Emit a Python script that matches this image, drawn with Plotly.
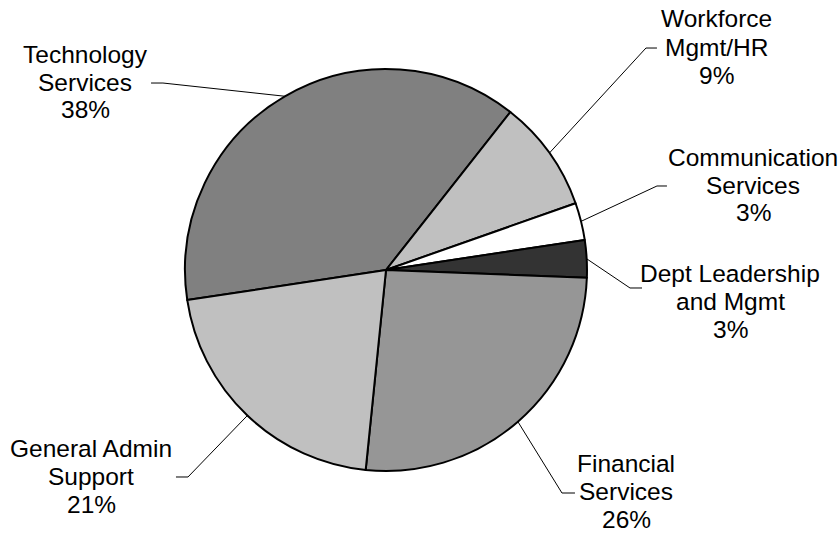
import math
import plotly.graph_objects as go

# ---- data ----
labels = ["Technology<br>Services", "Workforce<br>Mgmt/HR", "Communication<br>Services",
          "Dept Leadership<br>and Mgmt", "Financial<br>Services", "General Admin<br>Support"]
values = [38, 9, 3, 3, 26, 21]
colors = ["#808080", "#C0C0C0", "#FFFFFF", "#333333", "#969696", "#C0C0C0"]

# ---- layout constants (pixels) ----
W, H = 840, 536
CX, CY, R = 386, 270, 201
ROTATION = -98.6
FONT_SIZE = 24.5
LINE_GAP = 28
# label centre positions and leader-line elbow / end points (pixels, top-left origin)
label_pos = [(85, 82), (716, 47), (753, 185), (730, 301), (626, 491), (91, 476)]
elbow_pos = [(163, 83), (646, 48), (657, 186), (630, 288), (562, 493), (188, 477)]
end_pos = [(151, 83), (657, 48), (667, 186), (642, 288), (575, 493), (176, 477)]

def px(x, y):
    return x / W, 1 - y / H

fig = go.Figure(go.Pie(
    labels=labels, values=values, sort=False, direction="clockwise",
    rotation=ROTATION, textinfo="none", hoverinfo="none", showlegend=False,
    marker=dict(colors=colors, line=dict(color="#000000", width=2)),
    domain=dict(x=[(CX - R) / W, (CX + R) / W], y=[1 - (CY + R) / H, 1 - (CY - R) / H]),
))

total = sum(values)
cum = 0
annotations = []
shapes = []
for i, (lab, v) in enumerate(zip(labels, values)):
    mid = math.radians(ROTATION + 360 * (cum + v / 2) / total)
    cum += v
    hx, hy = CX + R * math.sin(mid), CY - R * math.cos(mid)
    pts = [(hx, hy), elbow_pos[i], end_pos[i]]
    path = "M " + " L ".join("%.4f,%.4f" % px(*p) for p in pts)
    shapes.append(dict(type="path", path=path, xref="paper", yref="paper",
                       line=dict(color="#000000", width=1)))
    pct = round(100 * v / total)
    lines = lab.split("<br>") + [f"{pct}%"]
    n = len(lines)
    for k, line in enumerate(lines):
        lx, ly = px(label_pos[i][0], label_pos[i][1] + (k - (n - 1) / 2) * LINE_GAP)
        annotations.append(dict(x=lx, y=ly, xref="paper", yref="paper", showarrow=False,
                                text=line, align="center",
                                xanchor="center", yanchor="middle",
                                font=dict(family="Arial, Liberation Sans", size=FONT_SIZE,
                                          color="#000000")))

fig.update_layout(
    width=W, height=H, margin=dict(l=0, r=0, t=0, b=0),
    paper_bgcolor="#FFFFFF", plot_bgcolor="#FFFFFF",
    annotations=annotations, shapes=shapes,
)
fig.write_html("out.html", config={"displayModeBar": False},
               post_script="document.body.style.margin='0';")
